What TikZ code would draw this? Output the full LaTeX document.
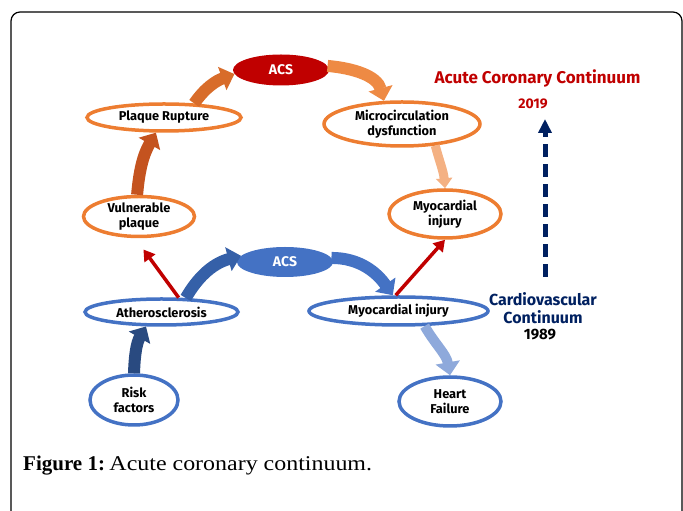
\documentclass[tikz,border=0pt]{standalone}
\usepackage{fontspec}
\setsansfont{Fira Sans}
\newfontfamily\capfont{Liberation Serif}
\newfontfamily\capfontwide[FakeStretch=1.14]{Liberation Serif}
\usetikzlibrary{shapes.geometric,arrows.meta,positioning}

\definecolor{accorange}{HTML}{ED7D31}
\definecolor{accblue}{HTML}{4472C4}
\definecolor{accred}{HTML}{C00000}
\definecolor{accnavy}{HTML}{002060}
\definecolor{prflow}{HTML}{D86C2A}
\definecolor{microflow}{HTML}{EE8A44}
\definecolor{vulnflow}{HTML}{C4531F}
\definecolor{myoflow}{HTML}{F4B183}
\definecolor{riskflow}{HTML}{294A80}
\definecolor{atherflow}{HTML}{3560A8}
\definecolor{heartflow}{HTML}{8EA9DB}

\tikzset{
  oval/.style={ellipse, draw, line width=3.5pt, inner sep=0pt, align=center,
    font=\sffamily\bfseries\fontsize{12.8}{14.5}\selectfont},
  orangeoval/.style={oval, draw=accorange},
  blueoval/.style={oval, draw=accblue},
  acsoval/.style={ellipse, inner sep=0pt, text=white,
    font=\sffamily\bfseries\fontsize{14}{16}\selectfont},
  flow/.style={line width=12pt, -{Triangle[length=13pt,width=24pt]}},
  link/.style={line width=3.5pt, draw=accred, -{Triangle[length=11pt,width=13pt]}},
}

\begin{document}
\begin{tikzpicture}[x=1pt,y=1pt]

  \useasboundingbox (0,0) rectangle (683,511);
  \draw[line width=1.2pt, rounded corners=9pt] (11,-5) -- (11,499) -- (682,499) -- (682,-5);

  % Nodes

  \node[acsoval, fill=accred, minimum width=96pt, minimum height=31pt] (acsr) at (281,441) {ACS} ; %
  \node[orangeoval, minimum width=154pt, minimum height=27pt] (prupt) at (164,393.5) {Plaque Rupture} ; %
  \node[orangeoval, minimum width=156pt, minimum height=44pt] (micro) at (402,387) {Microcirculation\\dysfunction} ; %
  \node[orangeoval, minimum width=111pt, minimum height=40pt] (vuln) at (139,294.5) {Vulnerable\\plaque} ; %
  \node[orangeoval, minimum width=112pt, minimum height=48pt] (myoo) at (445,297) {Myocardial\\injury} ; %

  \node[acsoval, fill=accblue, minimum width=96pt, minimum height=30pt] (acsb) at (285,249) {ACS} ; %
  \node[blueoval, minimum width=153pt, minimum height=26pt] (ather) at (161.5,199) {Atherosclerosis} ; %
  \node[blueoval, minimum width=179pt, minimum height=28pt] (myob) at (398.5,200) {Myocardial injury} ; %
  \node[blueoval, minimum width=88pt, minimum height=50pt] (risk) at (134,111) {Risk\\factors} ; %
  \node[blueoval, minimum width=102pt, minimum height=49pt] (heart) at (450,109.5) {Heart\\Failure} ; %

  \node[text=accred, font=\sffamily\bfseries\fontsize{17}{20}\selectfont] (acctitle) at (537.5,432) {Acute Coronary Continuum} ; %
  \node[text=accred, font=\sffamily\bfseries\fontsize{14}{16}\selectfont] (year2) at (533,407) {2019} ; %
  \node[text=accnavy, align=center, font=\sffamily\bfseries\fontsize{16}{18}\selectfont] (cvtitle) at (543,203) {Cardiovascular\\Continuum} ; %
  \node[font=\sffamily\bfseries\fontsize{15}{17}\selectfont] (year1) at (540,176) {1989} ; %

  \coordinate (dashbot) at (545,234) ; %
  \coordinate (dashtop) at (545,392) ; %

  \node[anchor=base west, inner sep=0pt] (caption) at (23,40)
    {{\capfont\bfseries\fontsize{21}{24}\selectfont Figure 1:} {\capfontwide\fontsize{21}{24}\selectfont Acute coronary continuum.}} ; %

  % Edges

  \draw[flow, prflow] (prupt.25) to[out=55,in=200] (acsr.185) ; %
  \draw[flow, microflow] (acsr.5) to[out=-5,in=105] (micro.128) ; %
  \draw[flow, vulnflow] (vuln.95) to[out=85,in=240] (prupt.242) ; %
  \draw[flow, myoflow, line width=9pt, -{Triangle[length=10pt,width=16pt]}] (micro.-33) to[out=-75,in=95] (myoo.north) ; %

  \draw[flow, riskflow] (risk.north) to[out=88,in=240] (ather.223) ; %
  \draw[flow, atherflow] (ather.30) to[out=60,in=195] (acsb.172) ; %
  \draw[flow, accblue] (acsb.5) to[out=0,in=125] (myob.110) ; %
  \draw[flow, heartflow, line width=10pt] (myob.-30) to[out=-60,in=100] (heart.north) ; %

  \draw[link, shorten >=14pt] (ather.40) -- (vuln.-100) ; %
  \draw[link] (myob.100) -- (myoo.south) ; %

  \draw[accnavy, line width=5pt, dash pattern=on 13pt off 7pt,
    -{Triangle[length=14pt,width=13pt]}] (dashbot) -- (dashtop) ; %

\end{tikzpicture}
\end{document}
